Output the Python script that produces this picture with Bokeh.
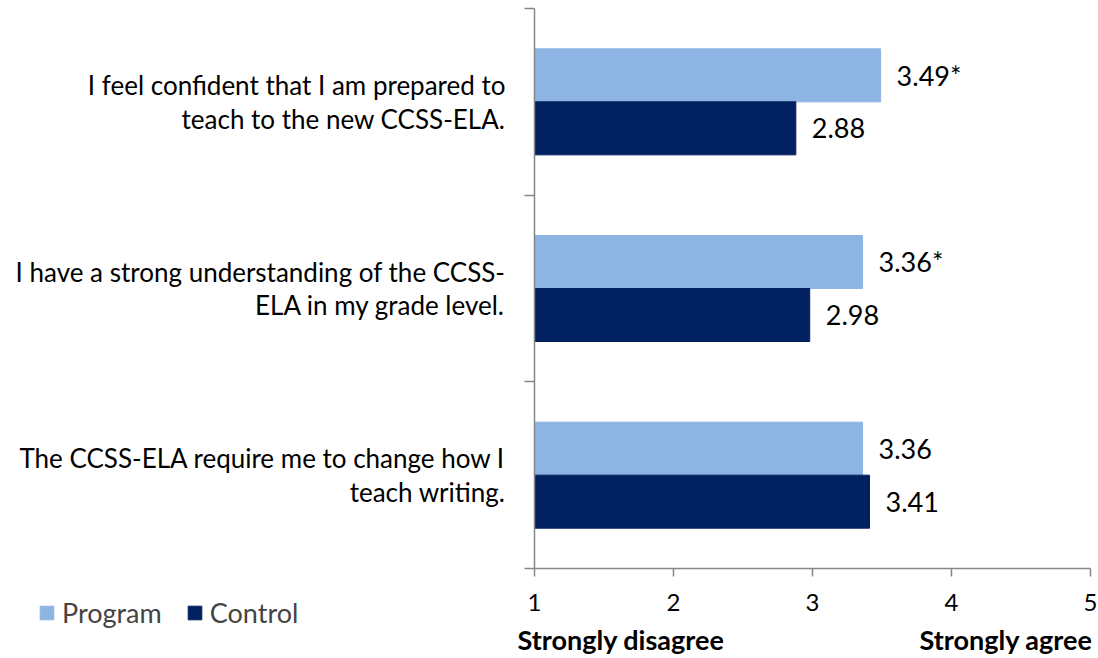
from bokeh.plotting import figure
from bokeh.models import (Range1d, LinearAxis, FixedTicker, ColumnDataSource, Legend,
                          LegendItem, Label)
from bokeh.embed import file_html
from bokeh.resources import INLINE
from bokeh.core.properties import value

# ---- data ----
categories = [
    "I feel confident that I am prepared to\nteach to the new CCSS-ELA.",
    "I have a strong understanding of the CCSS-\nELA in my grade level.",
    "The CCSS-ELA require me to change how I\nteach writing.",
]
program = [3.49, 3.36, 3.36]
control = [2.88, 2.98, 3.41]
program_labels = ["3.49*", "3.36*", "3.36"]
control_labels = ["2.88", "2.98", "3.41"]
x_ticks = [1, 2, 3, 4, 5]
series_names = ["Program", "Control"]
scale_captions = ["Strongly disagree", "Strongly agree"]

# ---- style / layout ----
PROG_COLOR = "#8EB4E3"
CTRL_COLOR = "#002060"
AXIS_COLOR = "#868686"
FONT = "Lato"
FS = "27px"
CAT_FS = "26px"
TICK_FS = "24px"
W, H = 1098, 658
PLOT_L, PLOT_R, PLOT_T, PLOT_B = 534, 1090, 8, 568   # pixel box of the chart area

n = len(categories)
xmin, xmax = x_ticks[0], x_ticks[-1]
px_x = (PLOT_R - PLOT_L) / (xmax - xmin)
px_y = (PLOT_B - PLOT_T) / n
x_range = Range1d(xmin - PLOT_L / px_x, xmax + (W - PLOT_R) / px_x)
y_range = Range1d(n + (H - PLOT_B) / px_y, -PLOT_T / px_y)

centers = [i + 0.5 for i in range(n)]
bar_h = 0.284

src_p = ColumnDataSource(dict(y=[c - bar_h / 2 for c in centers], right=program,
                              label=program_labels))
src_c = ColumnDataSource(dict(y=[c + bar_h / 2 for c in centers], right=control,
                              label=control_labels))

p = figure(width=W, height=H, output_backend="svg", toolbar_location=None,
           x_range=x_range, y_range=y_range,
           x_axis_location=None, y_axis_location=None,
           min_border=0)
p.outline_line_color = None
p.grid.visible = False
p.background_fill_color = "white"
p.border_fill_color = "white"

r_p = p.hbar(y="y", left=xmin, right="right", height=bar_h, source=src_p,
             fill_color=PROG_COLOR, line_color=PROG_COLOR)
r_c = p.hbar(y="y", left=xmin, right="right", height=bar_h, source=src_c,
             fill_color=CTRL_COLOR, line_color=CTRL_COLOR)

for src in (src_p, src_c):
    p.text(x="right", y="y", text="label", source=src, x_offset=16,
           text_baseline="middle", text_align="left",
           text_font=value(FONT), text_font_size=FS, text_color="#000000")

# x axis (fixed at the bottom of the category area)
xa = LinearAxis(ticker=FixedTicker(ticks=x_ticks), fixed_location=n, bounds=(xmin, xmax))
xa.axis_line_color = AXIS_COLOR
xa.axis_line_width = 1.5
xa.major_tick_line_color = AXIS_COLOR
xa.major_tick_line_width = 1.5
xa.major_tick_out = 8
xa.major_tick_in = 0
xa.minor_tick_line_color = None
xa.major_label_text_font = FONT
xa.major_label_text_font_size = TICK_FS
xa.major_label_text_color = "#000000"
xa.major_label_standoff = 17
p.add_layout(xa, "below")

# y axis with boundary ticks
ya = LinearAxis(ticker=FixedTicker(ticks=list(range(n + 1))), fixed_location=xmin,
                bounds=(0, n))
ya.axis_line_color = AXIS_COLOR
ya.axis_line_width = 1.5
ya.major_tick_line_color = AXIS_COLOR
ya.major_tick_line_width = 1.5
ya.major_tick_out = 10
ya.major_tick_in = 0
ya.minor_tick_line_color = None
ya.major_label_text_font_size = "0px"
ya.major_label_overrides = {i: "" for i in range(n + 1)}
p.add_layout(ya, "left")

# y axis with category labels
yl = LinearAxis(ticker=FixedTicker(ticks=centers), fixed_location=xmin)
yl.axis_line_color = None
yl.major_tick_line_color = None
yl.major_tick_out = 0
yl.major_tick_in = 0
yl.minor_tick_line_color = None
yl.major_label_overrides = {c: t for c, t in zip(centers, categories)}
yl.major_label_text_font = FONT
yl.major_label_text_font_size = CAT_FS
yl.major_label_text_color = "#000000"
yl.major_label_text_line_height = 1.05
yl.major_label_standoff = 29
p.add_layout(yl, "left")

# scale captions under the axis ends
cap_y = n + 71 / px_y
p.add_layout(Label(x=xmin, y=cap_y, text=scale_captions[0], x_offset=-17,
                   text_align="left", text_baseline="middle", text_font=FONT,
                   text_font_size=FS, text_font_style="bold", text_color="#000000"))
p.add_layout(Label(x=xmax, y=cap_y, text=scale_captions[1], x_offset=2,
                   text_align="right", text_baseline="middle", text_font=FONT,
                   text_font_size=FS, text_font_style="bold", text_color="#000000"))

legend = Legend(items=[LegendItem(label=series_names[0], renderers=[r_p]),
                       LegendItem(label=series_names[1], renderers=[r_c])],
                orientation="horizontal", location=(38, 29))
legend.glyph_width = 17
legend.glyph_height = 17
legend.label_text_font = FONT
legend.label_text_font_size = FS
legend.label_standoff = 7
legend.spacing = 24
legend.padding = 0
legend.margin = 0
legend.border_line_color = None
legend.background_fill_alpha = 0
p.add_layout(legend, "center")

open("out.html", "w").write(file_html(p, INLINE))
